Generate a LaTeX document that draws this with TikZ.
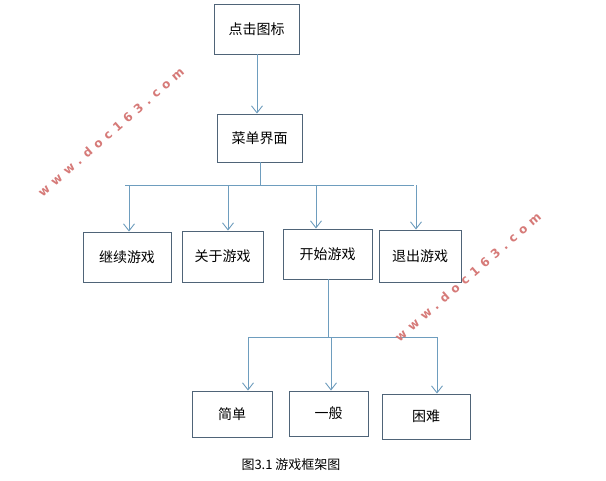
\documentclass[tikz,border=0pt]{standalone}
\usepackage{fontspec}
\setmainfont{Noto Sans CJK SC}
\newfontfamily\wmfont[LetterSpace=45]{DejaVu Sans}
\usetikzlibrary{arrows.meta}
\definecolor{boxc}{HTML}{4F6478}
\definecolor{arrc}{HTML}{6E9DBE}
\definecolor{wmc}{HTML}{D67A78}
\begin{document}
\begin{tikzpicture}[x=1pt,y=-1pt,
  box/.style={draw=boxc, line width=0.95pt, font=\fontsize{14}{16}\selectfont, inner sep=0pt},
  conn/.style={draw=arrc, line width=0.9pt},
  arr/.style={conn, -{Straight Barb[length=7pt,width=11pt,line width=0.9pt]}},
  wm/.style={text=wmc, font=\wmfont\fontsize{12}{13}\selectfont\bfseries, rotate=41}]
\useasboundingbox (0,0) rectangle (606,480);
\fill[white] (0,0) rectangle (606,480);
% boxes
\node[box, minimum width=85pt, minimum height=50pt] (click) at (256.5,29) {点击图标};
\node[box, minimum width=85pt, minimum height=48pt] (menu) at (259.5,138) {菜单界面};
\node[box, minimum width=88pt, minimum height=50pt] (cont) at (127,257) {继续游戏};
\node[box, minimum width=81pt, minimum height=51pt] (about) at (222.5,256.5) {关于游戏};
\node[box, minimum width=89pt, minimum height=50pt] (start) at (327.5,254) {开始游戏};
\node[box, minimum width=82pt, minimum height=52pt] (quit) at (420,256) {退出游戏};
\node[box, minimum width=80pt, minimum height=46pt] (easy) at (232,414) {简单};
\node[box, minimum width=79pt, minimum height=45pt] (mid) at (328.5,413.5) {一般};
\node[box, minimum width=88pt, minimum height=45pt] (hard) at (426,416.5) {困难};
% junction coordinates
\coordinate (a0) at (257,0);
\coordinate (j1) at (260,185);
\coordinate (h1l) at (125,185);
\coordinate (h1r) at (414,185);
\coordinate (j2) at (328,337);
\coordinate (h2l) at (248,337);
\coordinate (h2r) at (437,337);
% connectors
\draw[arr] (click.south -| a0) -- (menu.north -| a0);
\draw[conn] (menu.south -| j1) -- (j1);
\draw[conn] (h1l) -- (h1r);
\draw[arr] (129,185) -- (cont.north -| 129,0);
\draw[arr] (228,185) -- (about.north -| 228,0);
\draw[arr] (316,185) -- (start.north -| 316,0);
\draw[arr] (416,185) -- (quit.north -| 416,0);
\draw[conn] (start.south -| j2) -- (j2);
\draw[conn] (h2l) -- (h2r);
\draw[arr] (h2l) -- (easy.north -| h2l);
\draw[arr] (331,337) -- (mid.north -| 331,0);
\draw[arr] (h2r) -- (hard.north -| h2r);
% caption
\node[font=\fontsize{13}{15}\selectfont] (cap) at (291,465) {图3.1 游戏框架图};
% watermarks
\node[wm] (wm1) at (111,132) {www.doc163.com};
\node[wm] (wm2) at (468,277) {www.doc163.com};
\end{tikzpicture}
\end{document}
